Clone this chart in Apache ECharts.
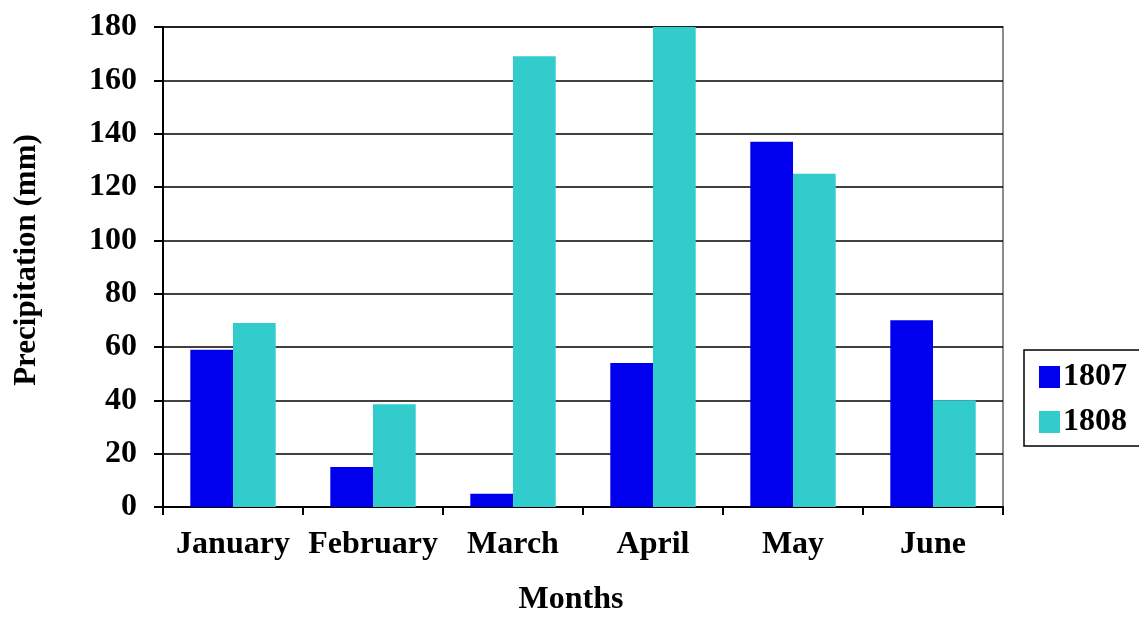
<!DOCTYPE html>
<html>
<head>
<meta charset="utf-8">
<script src="https://cdn.jsdelivr.net/npm/echarts@6/dist/echarts.min.js"></script>
<style>
html,body{margin:0;padding:0;background:#fff;overflow:hidden;}
#chart{width:1139px;height:621px;}
</style>
</head>
<body>
<div id="chart"></div>
<script>
const months = ['January', 'February', 'March', 'April', 'May', 'June'];
const values1807 = [59, 15, 5, 54, 137, 70];
const values1808 = [69, 38.5, 169, 180, 125, 40];
const seriesNames = ['1807', '1808'];
const yTicks = { min: 0, max: 180, interval: 20 };

const FONT = '"Liberation Serif", "Times New Roman", serif';
const chart = echarts.init(document.getElementById('chart'), null, { renderer: 'canvas' });
chart.setOption({
  animation: false,
  backgroundColor: '#ffffff',
  grid: {
    left: 163, right: 136, top: 27, bottom: 109,
    show: true, borderColor: '#8c8c8c', borderWidth: 2, backgroundColor: '#ffffff'
  },
  legend: {
    orient: 'vertical',
    left: 1024, top: 350,
    padding: [11, 20, 8, 15],
    itemGap: 13,
    itemWidth: 21, itemHeight: 22,
    borderColor: '#000', borderWidth: 1.5,
    icon: 'rect',
    textStyle: { fontFamily: FONT, fontWeight: 'bold', fontSize: 32, color: '#000', padding: [0, 0, 0, -2] },
    data: seriesNames
  },
  xAxis: {
    type: 'category',
    data: months,
    name: 'Months',
    nameLocation: 'middle',
    nameGap: 77,
    nameTextStyle: { fontFamily: FONT, fontWeight: 'bold', fontSize: 32, color: '#000', padding: [0, 24, 0, 0] },
    axisLine: { lineStyle: { color: '#000', width: 2 } },
    axisTick: { show: true, interval: 0, length: 8, lineStyle: { color: '#000', width: 2 } },
    axisLabel: { interval: 0, fontFamily: FONT, fontWeight: 'bold', fontSize: 32, color: '#000', margin: 22 },
    splitLine: { show: false }
  },
  yAxis: {
    type: 'value',
    min: yTicks.min, max: yTicks.max, interval: yTicks.interval,
    name: 'Precipitation (mm)',
    nameLocation: 'middle',
    nameGap: 121,
    nameTextStyle: { fontFamily: FONT, fontWeight: 'bold', fontSize: 31, color: '#000', padding: [0, 0, 0, 14] },
    axisLine: { show: true, lineStyle: { color: '#000', width: 2 } },
    axisTick: { show: true, length: 9, lineStyle: { color: '#000', width: 2 } },
    axisLabel: { fontFamily: FONT, fontWeight: 'bold', fontSize: 32, color: '#000', margin: 26 },
    splitLine: { show: true, lineStyle: { color: '#000', width: 1.5 } }
  },
  series: [
    {
      name: seriesNames[0], type: 'bar', data: values1807,
      barGap: '0%', barCategoryGap: '39%',
      itemStyle: { color: '#0000ee' }
    },
    {
      name: seriesNames[1], type: 'bar', data: values1808,
      barGap: '0%', barCategoryGap: '39%',
      itemStyle: { color: '#33cccc' }
    }
  ]
});
</script>
</body>
</html>
